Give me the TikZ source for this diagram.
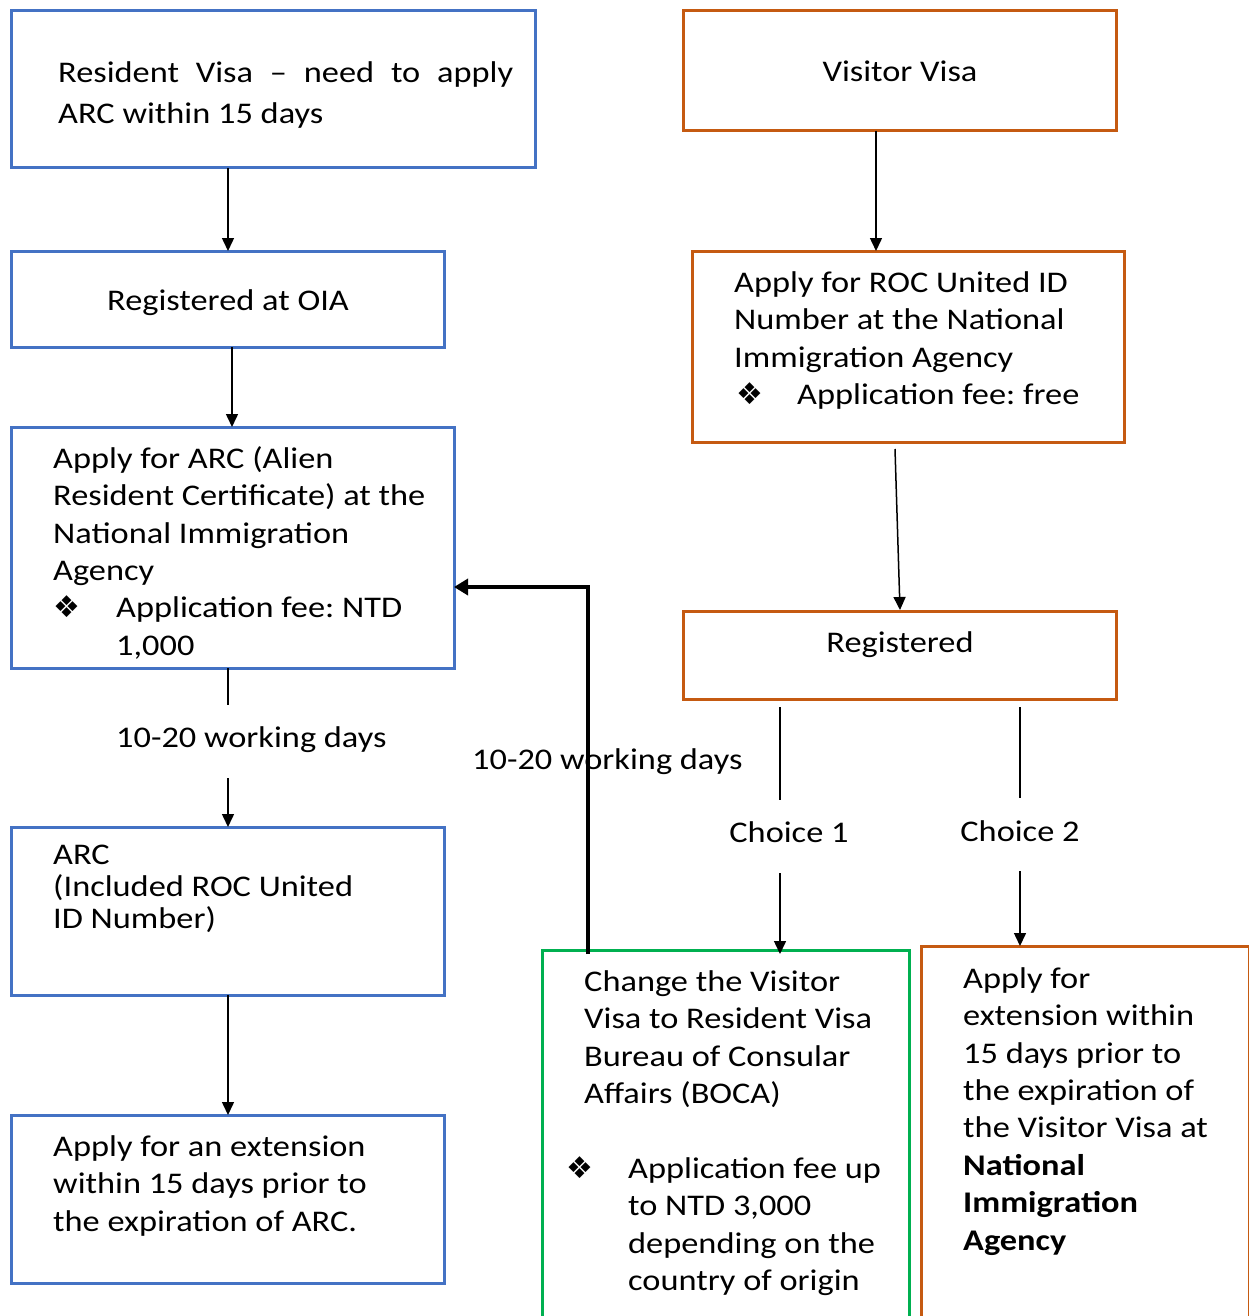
\documentclass[tikz,border=0pt]{standalone}
\usepackage{fontspec}
\setmainfont{Carlito}[FakeStretch=1.145]
\newfontfamily\dejavu{DejaVu Sans}
\usetikzlibrary{arrows.meta}
\definecolor{cblue}{HTML}{4472C4}
\definecolor{corange}{HTML}{C55A11}
\definecolor{cgreen}{HTML}{00B050}
\newcommand\tstr{\rule{0pt}{25pt}}
\newcommand\bulx[1]{\makebox[#1][l]{\dejavu\fontsize{30}{30}\selectfont ❖}}
\frenchspacing
\begin{document}
\begin{tikzpicture}[x=1pt,y=-1pt,
  boxbase/.style={rectangle, line width=3pt, inner sep=0pt, outer sep=0pt},
  bluebox/.style={boxbase, draw=cblue},
  orangebox/.style={boxbase, draw=corange},
  greenbox/.style={boxbase, draw=cgreen},
  txt/.style={inner sep=0pt, align=left, anchor=north west, font=\fontsize{30}{37.4}\selectfont},
  ctxt/.style={inner sep=0pt, anchor=base, font=\fontsize{30}{37.4}\selectfont},
  ltxt/.style={inner sep=0pt, anchor=base west, font=\fontsize{30}{37.4}\selectfont},
  ln/.style={line width=1.5pt},
  arr/.style={line width=1.5pt, -{Triangle[length=13pt,width=12pt]}},
  thickarr/.style={line width=4.5pt, -{Triangle[length=14pt,width=16pt]}}]
\useasboundingbox (0,0) rectangle (1249,1316);
\fill[white] (0,0) rectangle (1249,1316);

% boxes
\node[bluebox, minimum width=524pt, minimum height=157pt] (b1) at (273,89.5) {};
\node[bluebox, minimum width=433pt, minimum height=96pt] (b2) at (227.5,299) {};
\node[bluebox, minimum width=443pt, minimum height=241pt] (b3) at (232.5,547.5) {};
\node[bluebox, minimum width=433pt, minimum height=168pt] (b4) at (227.5,911) {};
\node[bluebox, minimum width=433pt, minimum height=168pt] (b5) at (227.5,1199) {};
\node[orangebox, minimum width=433pt, minimum height=120pt] (b6) at (899.5,71) {};
\node[orangebox, minimum width=432pt, minimum height=191pt] (b7) at (908,346.5) {};
\node[orangebox, minimum width=433pt, minimum height=88pt] (b8) at (899.5,655) {};
\node[greenbox, minimum width=367pt, minimum height=385pt] (b9) at (725.5,1142.5) {};
\node[orangebox, minimum width=328pt, minimum height=389pt] (b10) at (1085,1140.5) {};

% texts
\node[txt, font=\fontsize{30}{41}\selectfont] (t1) at (58,57) {\tstr\makebox[455pt][s]{Resident Visa – need to apply}\\ARC within 15 days};
\node[ctxt] (t2) at (228,310) {Registered at OIA};
\node[txt] (t3) at (53,443) {\tstr Apply for ARC (Alien\\Resident Certificate) at the\\National Immigration\\Agency\\\bulx{63pt}Application fee: NTD\\\hspace*{63pt}1,000};
\node[txt, font=\fontsize{30}{32}\selectfont] (t4) at (53,839) {\tstr ARC\\(Included ROC United\\ID Number)};
\node[txt] (t5) at (53,1131) {\tstr Apply for an extension\\within 15 days prior to\\the expiration of ARC.};
\node[ctxt] (t6) at (900,82) {Visitor Visa};
\node[txt] (t7) at (734,267) {\tstr Apply for ROC United ID\\Number at the National\\Immigration Agency\\\hspace*{2pt}\bulx{61pt}Application fee: free};
\node[ctxt] (t8) at (900,652) {Registered};
\node[txt] (t9) at (584,966) {\tstr Change the Visitor\\Visa to Resident Visa\\Bureau of Consular\\Affairs (BOCA)};
\node[txt] (t9b) at (566,1153) {\tstr\bulx{62pt}Application fee up\\\hspace*{62pt}to NTD 3,000\\\hspace*{62pt}depending on the\\\hspace*{62pt}country of origin};
\node[txt] (t10) at (963,963) {\tstr Apply for\\extension within\\15 days prior to\\the expiration of\\the Visitor Visa at\\\textbf{National}\\\textbf{Immigration}\\\textbf{Agency}};

% labels
\node[ltxt] (l1) at (116,747) {10-20 working days};
\node[ltxt] (l2) at (472,769) {10-20 working days};
\node[ctxt] (ch1) at (789,842) {Choice 1};
\node[ctxt] (ch2) at (1020,841) {Choice 2};

% helper coordinates
\coordinate (xa) at (228,0);
\coordinate (xb) at (232,0);
\coordinate (xc) at (876,0);
\coordinate (xd) at (780,0);
\coordinate (xe) at (1020,0);
\coordinate (xf) at (588,0);
\coordinate (g1) at (228,705);
\coordinate (g2) at (228,778);
\coordinate (s7) at (895,449);
\coordinate (e8) at (900,610);
\coordinate (d1a) at (780,707);
\coordinate (d1b) at (780,800);
\coordinate (d1c) at (780,873);
\coordinate (d2a) at (1020,707);
\coordinate (d2b) at (1020,798);
\coordinate (d2c) at (1020,871);
\coordinate (k1) at (588,587);

% connectors
\draw[arr] (b1.south -| xa) -- (b2.north -| xa);
\draw[arr] (b2.south -| xb) -- (b3.north -| xb);
\draw[ln] (b3.south -| xa) -- (g1);
\draw[arr] (g2) -- (b4.north -| xa);
\draw[arr] (b4.south -| xa) -- (b5.north -| xa);
\draw[arr] (b6.south -| xc) -- (b7.north -| xc);
\draw[arr] (s7) -- (e8);
\draw[ln] (d1a) -- (d1b);
\draw[arr] (d1c) -- ([yshift=-4pt]b9.north -| xd);
\draw[ln] (d2a) -- (d2b);
\draw[arr] (d2c) -- (b10.north -| xe);
\draw[thickarr] ([yshift=-4pt]b9.north -| xf) -- (k1) -- (b3.east |- k1);
\end{tikzpicture}
\end{document}
